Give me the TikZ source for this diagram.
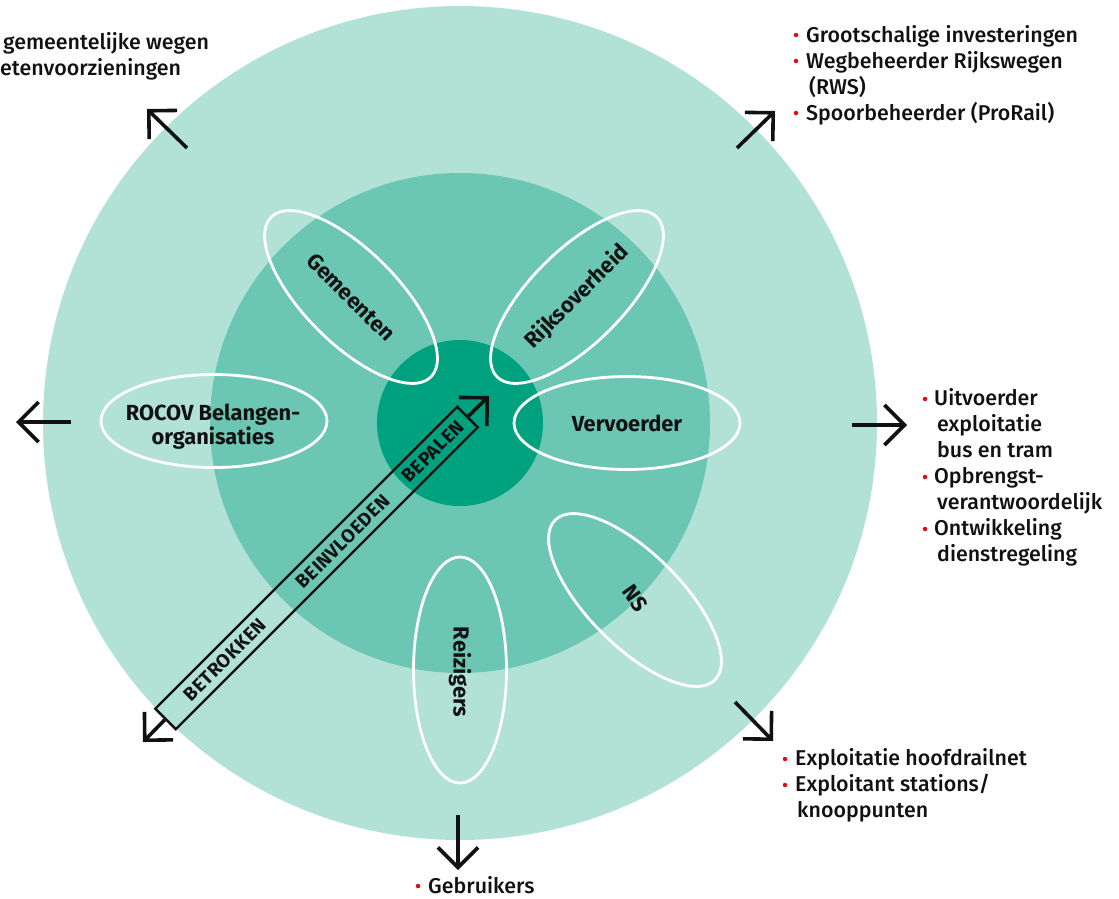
\documentclass[tikz,border=0pt]{standalone}
\usepackage{fontspec}
\setmainfont{Fira Sans}[UprightFont={* Medium}, BoldFont={* Bold}]
\usetikzlibrary{shapes.geometric,arrows.meta,calc}
\definecolor{outerc}{HTML}{B2E1D6}
\definecolor{midc}{HTML}{6CC6B4}
\definecolor{innerc}{HTML}{00A17F}
\definecolor{bulletred}{HTML}{E30613}
\definecolor{ink}{HTML}{111111}
\begin{document}
\begin{tikzpicture}[x=1pt,y=-1pt,
  petal/.style={ellipse, draw=white, line width=2.8pt, minimum width=226pt, minimum height=93pt, inner sep=0pt},
  ptext/.style={font=\bfseries\fontsize{21.8}{24}\selectfont, text=ink, inner sep=0pt, align=center},
  arr/.style={draw=ink, line width=3.6pt, -{Straight Barb[length=20pt,width=40pt]}},
  lbl/.style={anchor=base west, inner sep=0pt, font=\fontsize{21.4}{26}\selectfont, text=ink},
  bul/.style={fill=bulletred, circle, inner sep=0pt, minimum size=4.5pt},
  bartext/.style={font=\bfseries\fontsize{19}{22}\selectfont\addfontfeatures{LetterSpace=3}, text=ink, rotate=45, inner sep=0pt},
  barbox/.style={draw=ink, line width=2.4pt, minimum width=427pt, minimum height=29pt, inner sep=0pt, rotate=45}
]
\useasboundingbox (0,0) rectangle (1119,898);
% circles
\fill[outerc] (460,423) circle[radius=417pt];
\fill[midc] (460,423) circle[radius=250pt];
\fill[innerc] (460,423) circle[radius=83pt];

% petals
\node[petal, rotate=-45] (gem) at (351,297) {};
\node[petal, rotate=45] (rijk) at (577,297) {};
\node[petal] (rocov) at (214,421) {};
\node[petal] (verv) at (627,423) {};
\node[petal, rotate=-90] (reiz) at (460,670) {};
\node[petal, rotate=-45] (ns) at (635,600) {};

\node[ptext, rotate=-45] (tgem) at (gem.center) {Gemeenten};
\node[ptext, rotate=45] (trijk) at (rijk.center) {Rijksoverheid};
\node[ptext] (trocov) at ($(rocov.center)+(-1,6)$) {ROCOV Belangen-\\organisaties};
\node[ptext] (tverv) at (verv.center) {Vervoerder};
\node[ptext, rotate=-90] (treiz) at ($(reiz.center)+(0,2)$) {Reizigers};
\node[ptext, rotate=-55] (tns) at ($(ns.center)+(0,-2)$) {NS};

% bar
\node[barbox] (bar) at (316.5,568) {};
\node[bartext] (tbet) at ($(bar.west)!0.198!(bar.east)$) {BETROKKEN};
\node[bartext] (tbei) at ($(bar.west)!0.587!(bar.east)$) {BEINVLOEDEN};
\node[bartext] (tbep) at ($(bar.west)!0.884!(bar.east)$) {BEPALEN};
\coordinate (barTipNE) at (489,396);
\coordinate (barTipSW) at (143,742);
\draw[arr] (bar.east) -- (barTipNE);
\draw[arr] (bar.west) -- (barTipSW);

% outer arrows
\coordinate (tlA) at (187,148); \coordinate (tlB) at (147,109);
\coordinate (trA) at (737,148); \coordinate (trB) at (775,111);
\coordinate (rA) at (852,425);  \coordinate (rB) at (907,425);
\coordinate (lA) at (71,422);   \coordinate (lB) at (16,422);
\coordinate (bA) at (458,815);  \coordinate (bB) at (458,870);
\coordinate (brA) at (735,702); \coordinate (brB) at (773,741);
\draw[arr] (tlA) -- (tlB);
\draw[arr] (trA) -- (trB);
\draw[arr] (rA) -- (rB);
\draw[arr] (lA) -- (lB);
\draw[arr] (bA) -- (bB);
\draw[arr] (brA) -- (brB);

% top-left text
\node[lbl] (tl1) at (3,49) {gemeentelijke wegen};
\node[lbl] (tl2) at (0,75) {etenvoorzieningen};

% top-right list
\node[bul] (tb1) at (796,35) {};
\node[bul] (tb2) at (796,61) {};
\node[bul] (tb3) at (796,113) {};
\node[lbl] (tr1) at (806,42) {Grootschalige investeringen};
\node[lbl] (tr2) at (806,68) {Wegbeheerder Rijkswegen};
\node[lbl] (tr3) at (809,94) {(RWS)};
\node[lbl] (tr4) at (806,120) {Spoorbeheerder (ProRail)};

% right list
\node[bul] (rb1) at (925,399) {};
\node[bul] (rb2) at (925,477) {};
\node[bul] (rb3) at (925,529) {};
\node[lbl] (r1) at (934,405) {Uitvoerder};
\node[lbl] (r2) at (937,431) {exploitatie};
\node[lbl] (r3) at (937,457) {bus en tram};
\node[lbl] (r4) at (934,483) {Opbrengst-};
\node[lbl] (r5) at (937,509) {verantwoordelijk};
\node[lbl] (r6) at (934,535) {Ontwikkeling};
\node[lbl] (r7) at (937,561) {dienstregeling};

% bottom-right list
\node[bul] (bb1) at (785,759) {};
\node[bul] (bb2) at (785,785) {};
\node[lbl] (br1) at (795,765) {Exploitatie hoofdrailnet};
\node[lbl] (br2) at (795,791) {Exploitant stations/};
\node[lbl] (br3) at (797,817) {knooppunten};

% bottom
\node[bul] (gb) at (418,886) {};
\node[lbl] (gtxt) at (428,893) {Gebruikers};
\end{tikzpicture}
\end{document}
